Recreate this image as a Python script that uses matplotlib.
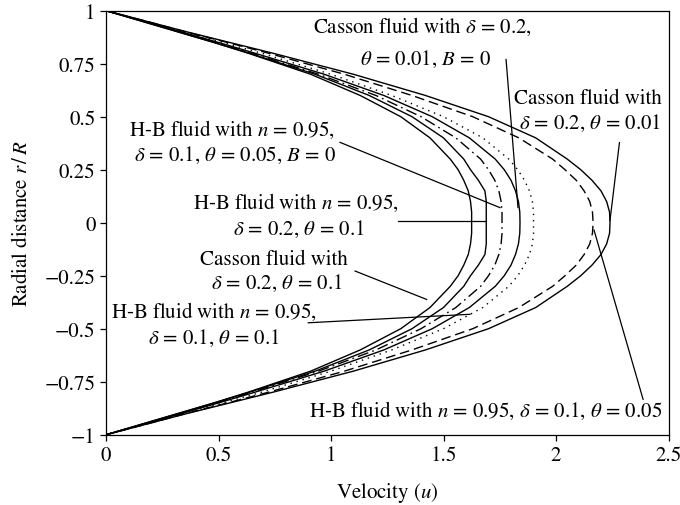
import numpy as np
import matplotlib
matplotlib.use("Agg")
import matplotlib.pyplot as plt

# ── data ──────────────────────────────────────────────────────────────────────
# radial positions r/R, wall to wall
r = [1.0, 0.95, 0.9, 0.85, 0.8, 0.7, 0.6, 0.5, 0.4, 0.3, 0.25, 0.2, 0.15, 0.1, 0.05, 0.0,
     -0.05, -0.1, -0.15, -0.2, -0.25, -0.3, -0.4, -0.5, -0.6, -0.7, -0.8, -0.85, -0.9, -0.95, -1.0]

# Casson fluid, delta = 0.2, theta = 0.1
u_casson_d02_t01 = [0, 0.16, 0.32, 0.48, 0.63, 0.91, 1.13, 1.31, 1.44, 1.53, 1.565, 1.59, 1.61, 1.62, 1.625, 1.625,
                    1.625, 1.62, 1.61, 1.59, 1.565, 1.53, 1.44, 1.31, 1.13, 0.91, 0.63, 0.48, 0.32, 0.16, 0]
# H-B fluid, n = 0.95, delta = 0.2, theta = 0.1
u_hb_d02_t01 = [0, 0.16, 0.32, 0.48, 0.635, 0.93, 1.17, 1.36, 1.50, 1.59, 1.62, 1.655, 1.684, 1.69, 1.69, 1.69,
                1.69, 1.69, 1.684, 1.655, 1.62, 1.59, 1.50, 1.36, 1.17, 0.93, 0.635, 0.48, 0.32, 0.16, 0]
# H-B fluid, n = 0.95, delta = 0.1, theta = 0.05, B = 0
u_hb_d01_t005_b0 = [0, 0.165, 0.33, 0.49, 0.645, 0.945, 1.20, 1.40, 1.555, 1.665, 1.70, 1.728, 1.746, 1.756, 1.76, 1.76,
                    1.76, 1.756, 1.746, 1.728, 1.70, 1.665, 1.555, 1.40, 1.20, 0.945, 0.645, 0.49, 0.33, 0.165, 0]
# Casson fluid, delta = 0.2, theta = 0.01, B = 0
u_casson_d02_t001_b0 = [0, 0.17, 0.335, 0.50, 0.66, 0.97, 1.235, 1.45, 1.615, 1.73, 1.77, 1.80, 1.82, 1.833, 1.839, 1.84,
                        1.839, 1.833, 1.82, 1.80, 1.77, 1.73, 1.615, 1.45, 1.235, 0.97, 0.66, 0.50, 0.335, 0.17, 0]
# H-B fluid, n = 0.95, delta = 0.1, theta = 0.1
u_hb_d01_t01 = [0, 0.175, 0.35, 0.52, 0.69, 1.00, 1.27, 1.50, 1.675, 1.79, 1.83, 1.86, 1.882, 1.895, 1.90, 1.90,
                1.90, 1.895, 1.882, 1.86, 1.83, 1.79, 1.675, 1.50, 1.27, 1.00, 0.69, 0.52, 0.35, 0.175, 0]
# H-B fluid, n = 0.95, delta = 0.1, theta = 0.05
u_hb_d01_t005 = [0, 0.18, 0.355, 0.54, 0.72, 1.06, 1.36, 1.63, 1.835, 1.985, 2.04, 2.09, 2.125, 2.15, 2.162, 2.165,
                 2.162, 2.15, 2.125, 2.09, 2.04, 1.985, 1.835, 1.63, 1.36, 1.06, 0.72, 0.54, 0.355, 0.18, 0]
# Casson fluid, delta = 0.2, theta = 0.01
u_casson_d02_t001 = [0, 0.18, 0.36, 0.55, 0.74, 1.10, 1.42, 1.70, 1.91, 2.05, 2.11, 2.16, 2.20, 2.225, 2.238, 2.24,
                     2.238, 2.225, 2.20, 2.16, 2.11, 2.05, 1.91, 1.70, 1.42, 1.10, 0.74, 0.55, 0.36, 0.18, 0]

CURVES = [
    (u_casson_d02_t01,      "-"),
    (u_hb_d02_t01,          "-"),
    (u_hb_d01_t005_b0,      (0, (8, 3, 1.2, 3))),
    (u_casson_d02_t001_b0,  "-"),
    (u_hb_d01_t01,          (0, (1, 3.5))),
    (u_hb_d01_t005,         (0, (7, 3.5))),
    (u_casson_d02_t001,     "-"),
]

X_TICKS = [0, 0.5, 1, 1.5, 2, 2.5]
Y_TICKS = [-1, -0.75, -0.5, -0.25, 0, 0.25, 0.5, 0.75, 1]

# annotation text: (text, u, r) -- centred
LABELS = [
    (r"Casson fluid with $\delta$ = 0.2,", 1.407, 0.926),
    (r"$\theta$ = 0.01, $B$ = 0", 1.418, 0.775),
    (r"Casson fluid with", 2.143, 0.586),
    (r"$\delta$ = 0.2, $\theta$ = 0.01", 2.153, 0.473),
    (r"H-B fluid with $n$ = 0.95,", 0.562, 0.440),
    (r"$\delta$ = 0.1, $\theta$ = 0.05, $B$ = 0", 0.573, 0.322),
    (r"H-B fluid with $n$ = 0.95,", 0.844, 0.100),
    (r"$\delta$ = 0.2, $\theta$ = 0.1", 0.856, -0.027),
    (r"Casson fluid with", 0.747, -0.173),
    (r"$\delta$ = 0.2, $\theta$ = 0.1", 0.758, -0.282),
    (r"H-B fluid with $n$ = 0.95,", 0.480, -0.418),
    (r"$\delta$ = 0.1, $\theta$ = 0.1", 0.478, -0.541),
    (r"H-B fluid with $n$ = 0.95, $\delta$ = 0.1, $\theta$ = 0.05", 1.687, -0.885),
]

# leader lines: ((u0, r0), (u1, r1))
LEADERS = [
    ((1.778, 0.770), (1.831, 0.072)),
    ((2.282, 0.378), (2.240, 0.011)),
    ((1.040, 0.379), (1.751, 0.071)),
    ((1.298, 0.0075), (1.689, 0.0075)),
    ((1.107, -0.228), (1.425, -0.362)),
    ((0.899, -0.472), (1.618, -0.432)),
    ((2.387, -0.833), (2.169, -0.035)),
]

# ── style ─────────────────────────────────────────────────────────────────────
plt.rcParams.update({
    "font.family": "STIXGeneral",
    "mathtext.fontset": "stix",
    "font.size": 15,
    "axes.linewidth": 0.9,
})

fig = plt.figure(figsize=(6.8, 5.06), dpi=100)
ax = fig.add_axes([0.1559, 0.1389, 0.8272, 0.838])

for u, ls in CURVES:
    ax.plot(u, r, color="black", lw=1.0, ls=ls)

for (u0, r0), (u1, r1) in LEADERS:
    ax.plot([u0, u1], [r0, r1], color="black", lw=0.9)

for txt, x, y in LABELS:
    ax.text(x, y, txt, ha="center", va="center", fontsize=15)

ax.set_xlim(0, 2.5)
ax.set_ylim(-1, 1)
ax.set_xticks(X_TICKS)
ax.set_xticklabels([f"{t:g}" for t in X_TICKS])
ax.set_yticks(Y_TICKS)
ax.set_yticklabels([f"{t:g}".replace("-", "\u2212") for t in Y_TICKS])
ax.tick_params(direction="out", length=4, width=0.9, labelsize=15)
ax.set_xlabel(r"Velocity ($u$)", fontsize=15, labelpad=11)
ax.set_ylabel(r"Radial distance $r\,/\,R$", fontsize=15, labelpad=9)

fig.savefig("out.png", dpi=100)
